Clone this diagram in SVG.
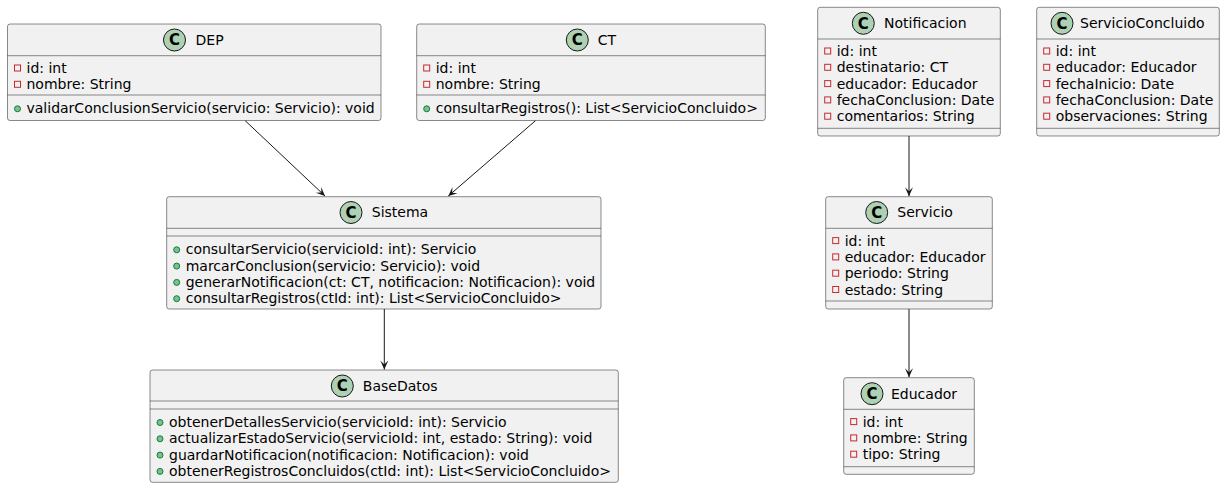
<svg xmlns="http://www.w3.org/2000/svg" width="1225" height="488" viewBox="0 0 1225 488">
<defs>
<style>
.box{fill:#F1F1F1;stroke:#181818;stroke-width:0.5}
.sep{stroke:#181818;stroke-width:0.5}
.ci{fill:#ADD1B2;stroke:#181818;stroke-width:1}
.cl{font-family:"DejaVu Sans",sans-serif;font-size:15px;font-weight:bold;fill:#000;text-anchor:middle}
.t{font-family:"DejaVu Sans",sans-serif;font-size:14px;fill:#000}
.pv{fill:none;stroke:#C82930;stroke-width:1}
.pb{fill:#84BE84;stroke:#038048;stroke-width:1}
.ln{stroke:#181818;stroke-width:1;fill:none}
</style>
<marker id="ah" viewBox="0 0 10 8" refX="10" refY="4" markerWidth="10" markerHeight="8" markerUnits="userSpaceOnUse" orient="auto">
<path d="M10,4 L1,0 L5,4 L1,8 Z" fill="#181818"/>
</marker>
</defs>
<rect width="1225" height="488" fill="#FFFFFF"/>

<g id="connectors">
<line class="ln" x1="245" y1="120.5" x2="325" y2="196" marker-end="url(#ah)"/>
<line class="ln" x1="535.7" y1="120.5" x2="448.3" y2="196" marker-end="url(#ah)"/>
<line class="ln" x1="384.3" y1="309" x2="384.3" y2="369.5" marker-end="url(#ah)"/>
<line class="ln" x1="909" y1="136" x2="909" y2="196.2" marker-end="url(#ah)"/>
<line class="ln" x1="909" y1="309" x2="909" y2="377.2" marker-end="url(#ah)"/>
</g>

<g id="DEP">
<rect class="box" x="7.5" y="24" width="373.5" height="96.5" rx="2.5"/>
<line class="sep" x1="7.5" y1="55.7" x2="381" y2="55.7"/>
<line class="sep" x1="7.5" y1="95" x2="381" y2="95"/>
<circle class="ci" cx="174.5" cy="40" r="11"/>
<text class="cl" x="174.5" y="45.3">C</text>
<text class="t" x="195.5" y="44.8">DEP</text>
<rect class="pv" x="14.5" y="65" width="6" height="6"/>
<text class="t" x="26.5" y="73">id: int</text>
<rect class="pv" x="14.5" y="81.3" width="6" height="6"/>
<text class="t" x="26.5" y="89.3">nombre: String</text>
<circle class="pb" cx="17.5" cy="108.8" r="3"/>
<text class="t" x="26.5" y="113.3">validarConclusionServicio(servicio: Servicio): void</text>
</g>

<g id="CT">
<rect class="box" x="416.7" y="24" width="348.6" height="96.5" rx="2.5"/>
<line class="sep" x1="416.7" y1="55.7" x2="765.3" y2="55.7"/>
<line class="sep" x1="416.7" y1="95" x2="765.3" y2="95"/>
<circle class="ci" cx="577.3" cy="40" r="11"/>
<text class="cl" x="577.3" y="45.3">C</text>
<text class="t" x="597.8" y="44.8">CT</text>
<rect class="pv" x="423.7" y="65" width="6" height="6"/>
<text class="t" x="435.7" y="73">id: int</text>
<rect class="pv" x="423.7" y="81.3" width="6" height="6"/>
<text class="t" x="435.7" y="89.3">nombre: String</text>
<circle class="pb" cx="426.7" cy="108.8" r="3"/>
<text class="t" x="435.7" y="113.3">consultarRegistros(): List&lt;ServicioConcluido&gt;</text>
</g>

<g id="Notificacion">
<rect class="box" x="817.7" y="7.3" width="182.6" height="128.7" rx="2.5"/>
<line class="sep" x1="817.7" y1="39" x2="1000.3" y2="39"/>
<line class="sep" x1="817.7" y1="128.3" x2="1000.3" y2="128.3"/>
<circle class="ci" cx="863.3" cy="23.3" r="11"/>
<text class="cl" x="863.3" y="28.6">C</text>
<text class="t" x="884" y="28.1">Notificacion</text>
<rect class="pv" x="824.7" y="48" width="6" height="6"/>
<text class="t" x="836.7" y="56">id: int</text>
<rect class="pv" x="824.7" y="64.3" width="6" height="6"/>
<text class="t" x="836.7" y="72.3">destinatario: CT</text>
<rect class="pv" x="824.7" y="80.6" width="6" height="6"/>
<text class="t" x="836.7" y="88.6">educador: Educador</text>
<rect class="pv" x="824.7" y="96.9" width="6" height="6"/>
<text class="t" x="836.7" y="104.9">fechaConclusion: Date</text>
<rect class="pv" x="824.7" y="113.2" width="6" height="6"/>
<text class="t" x="836.7" y="121.2">comentarios: String</text>
</g>

<g id="ServicioConcluido">
<rect class="box" x="1036.7" y="7.3" width="182.6" height="128.7" rx="2.5"/>
<line class="sep" x1="1036.7" y1="39" x2="1219.3" y2="39"/>
<line class="sep" x1="1036.7" y1="128.3" x2="1219.3" y2="128.3"/>
<circle class="ci" cx="1062" cy="23.3" r="11"/>
<text class="cl" x="1062" y="28.6">C</text>
<text class="t" x="1080" y="28.1">ServicioConcluido</text>
<rect class="pv" x="1043.7" y="48" width="6" height="6"/>
<text class="t" x="1055.7" y="56">id: int</text>
<rect class="pv" x="1043.7" y="64.3" width="6" height="6"/>
<text class="t" x="1055.7" y="72.3">educador: Educador</text>
<rect class="pv" x="1043.7" y="80.6" width="6" height="6"/>
<text class="t" x="1055.7" y="88.6">fechaInicio: Date</text>
<rect class="pv" x="1043.7" y="96.9" width="6" height="6"/>
<text class="t" x="1055.7" y="104.9">fechaConclusion: Date</text>
<rect class="pv" x="1043.7" y="113.2" width="6" height="6"/>
<text class="t" x="1055.7" y="121.2">observaciones: String</text>
</g>

<g id="Sistema">
<rect class="box" x="166.7" y="196.7" width="434.3" height="112.3" rx="2.5"/>
<line class="sep" x1="166.7" y1="228.3" x2="601" y2="228.3"/>
<line class="sep" x1="166.7" y1="236" x2="601" y2="236"/>
<circle class="ci" cx="351" cy="212.5" r="11"/>
<text class="cl" x="351" y="217.8">C</text>
<text class="t" x="371.8" y="217.3">Sistema</text>
<circle class="pb" cx="176.7" cy="249.8" r="3"/>
<text class="t" x="185.7" y="254.3">consultarServicio(servicioId: int): Servicio</text>
<circle class="pb" cx="176.7" cy="266.1" r="3"/>
<text class="t" x="185.7" y="270.6">marcarConclusion(servicio: Servicio): void</text>
<circle class="pb" cx="176.7" cy="282.4" r="3"/>
<text class="t" x="185.7" y="286.9">generarNotificacion(ct: CT, notificacion: Notificacion): void</text>
<circle class="pb" cx="176.7" cy="298.7" r="3"/>
<text class="t" x="185.7" y="303.2">consultarRegistros(ctId: int): List&lt;ServicioConcluido&gt;</text>
</g>

<g id="Servicio">
<rect class="box" x="825.7" y="196.7" width="166.6" height="112.3" rx="2.5"/>
<line class="sep" x1="825.7" y1="228.3" x2="992.3" y2="228.3"/>
<line class="sep" x1="825.7" y1="301" x2="992.3" y2="301"/>
<circle class="ci" cx="876.7" cy="212.5" r="11"/>
<text class="cl" x="876.7" y="217.8">C</text>
<text class="t" x="897.3" y="217.3">Servicio</text>
<rect class="pv" x="832.7" y="237.6" width="6" height="6"/>
<text class="t" x="844.7" y="245.6">id: int</text>
<rect class="pv" x="832.7" y="253.9" width="6" height="6"/>
<text class="t" x="844.7" y="261.9">educador: Educador</text>
<rect class="pv" x="832.7" y="270.2" width="6" height="6"/>
<text class="t" x="844.7" y="278.2">periodo: String</text>
<rect class="pv" x="832.7" y="286.5" width="6" height="6"/>
<text class="t" x="844.7" y="294.5">estado: String</text>
</g>

<g id="BaseDatos">
<rect class="box" x="150" y="370" width="468.3" height="112.3" rx="2.5"/>
<line class="sep" x1="150" y1="401" x2="618.3" y2="401"/>
<line class="sep" x1="150" y1="409" x2="618.3" y2="409"/>
<circle class="ci" cx="342.3" cy="386" r="11"/>
<text class="cl" x="342.3" y="391.3">C</text>
<text class="t" x="362.8" y="390.8">BaseDatos</text>
<circle class="pb" cx="160" cy="422.5" r="3"/>
<text class="t" x="169" y="427">obtenerDetallesServicio(servicioId: int): Servicio</text>
<circle class="pb" cx="160" cy="438.8" r="3"/>
<text class="t" x="169" y="443.3">actualizarEstadoServicio(servicioId: int, estado: String): void</text>
<circle class="pb" cx="160" cy="455.1" r="3"/>
<text class="t" x="169" y="459.6">guardarNotificacion(notificacion: Notificacion): void</text>
<circle class="pb" cx="160" cy="471.4" r="3"/>
<text class="t" x="169" y="475.9">obtenerRegistrosConcluidos(ctId: int): List&lt;ServicioConcluido&gt;</text>
</g>

<g id="Educador">
<rect class="box" x="843.7" y="377.7" width="130.6" height="96.6" rx="2.5"/>
<line class="sep" x1="843.7" y1="409.3" x2="974.3" y2="409.3"/>
<line class="sep" x1="843.7" y1="466.7" x2="974.3" y2="466.7"/>
<circle class="ci" cx="872" cy="393.7" r="11"/>
<text class="cl" x="872" y="399">C</text>
<text class="t" x="891" y="398.5">Educador</text>
<rect class="pv" x="850.7" y="418.6" width="6" height="6"/>
<text class="t" x="862.7" y="426.6">id: int</text>
<rect class="pv" x="850.7" y="434.9" width="6" height="6"/>
<text class="t" x="862.7" y="442.9">nombre: String</text>
<rect class="pv" x="850.7" y="451.2" width="6" height="6"/>
<text class="t" x="862.7" y="459.2">tipo: String</text>
</g>
</svg>
